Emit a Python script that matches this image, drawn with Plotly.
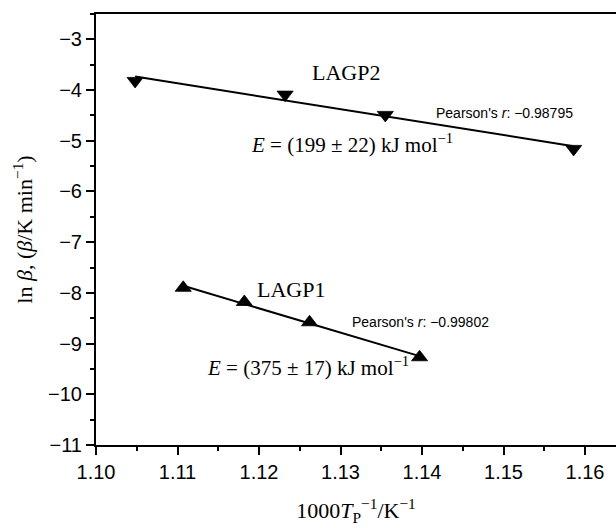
import numpy as np
import plotly.graph_objects as go

# LAGP2 (down triangles)
lagp2_x = [1.1048, 1.1232, 1.1355, 1.1586]
lagp2_y = [-3.82, -4.09, -4.49, -5.16]
# LAGP1 (up triangles)
lagp1_x = [1.1107, 1.1182, 1.1262, 1.1397]
lagp1_y = [-7.90, -8.18, -8.58, -9.27]

labels = ["LAGP2", "LAGP1"]
pearson = ["Pearson's <i>r</i>: \u22120.98795", "Pearson's <i>r</i>: \u22120.99802"]
energies = ["<i>E</i> = (199 \u00b1 22) kJ mol<sup>\u22121</sup>",
            "<i>E</i> = (375 \u00b1 17) kJ mol<sup>\u22121</sup>"]
xticks = [1.10, 1.11, 1.12, 1.13, 1.14, 1.15, 1.16]
xticklabels = ["1.10", "1.11", "1.12", "1.13", "1.14", "1.15", "1.16"]

fig = go.Figure()
for xs, ys, sym in [(lagp2_x, lagp2_y, "triangle-down"), (lagp1_x, lagp1_y, "triangle-up")]:
    xs_a, ys_a = np.array(xs), np.array(ys)
    k, b = np.polyfit(xs_a, ys_a, 1)
    fx = np.array([xs_a.min(), xs_a.max()])
    fig.add_trace(go.Scatter(x=fx, y=k * fx + b, mode="lines",
                             line=dict(color="black", width=2), showlegend=False,
                             hoverinfo="skip"))
    fig.add_trace(go.Scatter(x=xs, y=ys, mode="markers",
                             marker=dict(symbol=sym, size=14, color="black",
                                         line=dict(width=0.8, color="black")),
                             showlegend=False))

serif = "Liberation Serif, Times New Roman, serif"
sans = "Liberation Sans, Arial, sans-serif"

ann = [
    dict(x=1.1307, y=-3.66, text=labels[0], xanchor="center", font=dict(family=serif, size=22)),
    dict(x=1.1415, y=-4.45, text=pearson[0], xanchor="left", font=dict(family=sans, size=14)),
    dict(x=1.1188, y=-5.045, text=energies[0], xanchor="left", font=dict(family=serif, size=21)),
    dict(x=1.1239, y=-7.925, text=labels[1], xanchor="center", font=dict(family=serif, size=22)),
    dict(x=1.1312, y=-8.57, text=pearson[1], xanchor="left", font=dict(family=sans, size=14)),
    dict(x=1.1134, y=-9.458, text=energies[1], xanchor="left", font=dict(family=serif, size=21)),
]
for a in ann:
    fig.add_annotation(xref="x", yref="y", showarrow=False, yanchor="middle", **a)

fig.update_layout(
    width=616, height=528,
    margin=dict(l=96, r=0, t=14, b=83),
    plot_bgcolor="white", paper_bgcolor="white",
    font=dict(family=sans, size=20, color="black"),
)
fig.update_xaxes(
    range=[1.10, 1.1638], tickvals=xticks, ticktext=xticklabels,
    showgrid=False, zeroline=False, showline=True, linecolor="black", linewidth=2,
    mirror=True, ticks="outside", ticklen=8, tickwidth=1.5, tickcolor="black",
    minor=dict(dtick=0.005, tick0=1.10, ticks="outside", ticklen=4, tickwidth=1.5, tickcolor="black"),
    title=dict(text="1000<i>T</i><sub>P</sub><sup>\u22121</sup>/K<sup>\u22121</sup>",
               font=dict(family=serif, size=22), standoff=21),
)
fig.update_yaxes(
    range=[-11, -2.5], dtick=1, tick0=-11,
    showgrid=False, zeroline=False, showline=True, linecolor="black", linewidth=2,
    ticks="outside", ticklen=8, tickwidth=1.5, tickcolor="black",
    minor=dict(dtick=0.5, tick0=-11, ticks="outside", ticklen=4, tickwidth=1.5, tickcolor="black"),
    title=dict(text="ln <i>\u03b2</i>, (<i>\u03b2</i>/K min<sup>\u22121</sup>)",
               font=dict(family=serif, size=22), standoff=9),
)

fig.write_html("out.html")
